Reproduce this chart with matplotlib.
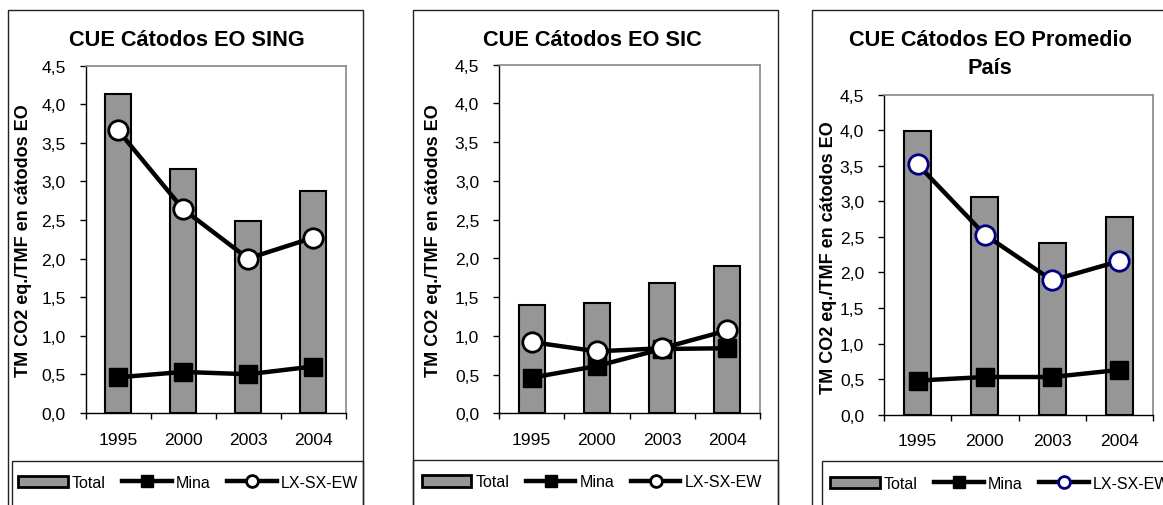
import numpy as np
import matplotlib.pyplot as plt
from matplotlib.patches import Rectangle
from matplotlib.ticker import FixedLocator, FuncFormatter

plt.rcParams['font.family'] = ['Liberation Sans', 'DejaVu Sans']

years = ['1995', '2000', '2003', '2004']

# SING
sing_total = [4.13, 3.16, 2.49, 2.87]
sing_mina = [0.46, 0.53, 0.50, 0.60]
sing_lx = [3.66, 2.64, 2.00, 2.27]

# SIC
sic_total = [1.40, 1.42, 1.68, 1.90]
sic_mina = [0.46, 0.61, 0.83, 0.84]
sic_lx = [0.92, 0.80, 0.84, 1.07]

# promedio pais
pais_total = [3.99, 3.06, 2.42, 2.78]
pais_mina = [0.48, 0.53, 0.53, 0.63]
pais_lx = [3.52, 2.53, 1.89, 2.16]

W, H = 1163, 506
fig = plt.figure(figsize=(W / 100, H / 100), dpi=100)


def fx(px):
    return px / W


def fy(py):
    return 1 - py / H


def add_axes(x0, y0, x1, y1):
    return fig.add_axes([fx(x0), fy(y1), fx(x1 - x0), (y1 - y0) / H])


def frame(x0, y0, x1, y1, lw=1.0, color='#222222'):
    fig.add_artist(Rectangle((fx(x0), fy(y1)), fx(x1 - x0), (y1 - y0) / H,
                             transform=fig.transFigure, fill=False,
                             lw=lw, edgecolor=color, clip_on=False))


def draw_panel(ax, total, mina, lx, lx_edge):
    x = np.arange(len(years))
    ax.bar(x, total, width=0.40, color='#969696', edgecolor='black', lw=1.5, zorder=2)
    ax.plot(x, mina, color='black', lw=3.2, marker='s', ms=13,
            mfc='black', mec='black', zorder=3)
    ax.plot(x, lx, color='black', lw=3.2, marker='o', ms=14,
            mfc='white', mec=lx_edge, mew=2.0, zorder=4)
    ax.set_xlim(-0.5, 3.5)
    ax.set_ylim(0, 4.5)
    ax.set_yticks(np.arange(0, 4.51, 0.5))
    ax.yaxis.set_major_formatter(FuncFormatter(lambda v, p: f'{v:.1f}'.replace('.', ',')))
    ax.xaxis.set_major_locator(FixedLocator([-0.5, 0.5, 1.5, 2.5, 3.5]))
    ax.xaxis.set_minor_locator(FixedLocator(x))
    ax.set_xticklabels([], minor=False)
    ax.set_xticklabels(years, minor=True)
    ax.tick_params(axis='x', which='major', direction='out', length=4.5, width=1)
    ax.tick_params(axis='x', which='minor', length=0, pad=13.5, labelsize=12.6)
    ax.tick_params(axis='y', direction='out', length=4.3, width=1, pad=10, labelsize=12.6)
    for s in ('top', 'right'):
        ax.spines[s].set_color('#888888')
        ax.spines[s].set_linewidth(1.2)
    for s in ('left', 'bottom'):
        ax.spines[s].set_color('black')
        ax.spines[s].set_linewidth(1.0)


def panel_legend(ax, x_start, y_center, lx_edge):
    handles = [
        plt.Rectangle((0, 0), 1, 1, facecolor='#969696', edgecolor='black', lw=2),
        plt.Line2D([], [], color='black', lw=3.2, marker='s', ms=8.5, mfc='black', mec='black'),
        plt.Line2D([], [], color='black', lw=3.2, marker='o', ms=8.5, mfc='white',
                   mec=lx_edge, mew=2.0),
    ]
    ax.legend(handles, ['Total', 'Mina', 'LX-SX-EW'], ncol=3, frameon=False,
              loc='center left', bbox_to_anchor=(fx(x_start), fy(y_center)),
              bbox_transform=fig.transFigure, borderpad=0, borderaxespad=0,
              handlelength=3.1, handletextpad=0.25, columnspacing=1.05,
              fontsize=11.5, numpoints=1)


ylab = 'TM CO2 eq./TMF en cátodos EO'
title_kw = dict(ha='center', va='baseline', fontsize=15.7, fontweight='bold')
ylab_kw = dict(rotation=90, ha='center', va='center', fontsize=13, fontweight='bold')

# panel 1: SING
frame(8, 11, 363, 530)
frame(12, 461.5, 363, 530)
ax1 = add_axes(85.7, 66.7, 345.5, 413.8)
draw_panel(ax1, sing_total, sing_mina, sing_lx, 'black')
panel_legend(ax1, 18, 483.5, 'black')
fig.text(fx(186.7), fy(45.5), 'CUE Cátodos EO SING', **title_kw)
fig.text(fx(24), fy(240.5), ylab, **ylab_kw)

# panel 2: SIC
frame(412.7, 11, 778.3, 530)
frame(412.7, 461, 778.3, 530)
ax2 = add_axes(499, 65.7, 760, 414.3)
draw_panel(ax2, sic_total, sic_mina, sic_lx, 'black')
panel_legend(ax2, 421.7, 483, 'black')
fig.text(fx(592.5), fy(45.5), 'CUE Cátodos EO SIC', **title_kw)
fig.text(fx(433.3), fy(240.5), ylab, **ylab_kw)

# panel 3: promedio pais (title on two lines)
frame(812.3, 11, 1180, 530)
frame(821.7, 462.3, 1180, 530)
ax3 = add_axes(884, 95.7, 1153, 415.7)
draw_panel(ax3, pais_total, pais_mina, pais_lx, '#000080')
panel_legend(ax3, 830, 484.5, '#000080')
fig.text(fx(990.3), fy(45.5), 'CUE Cátodos EO Promedio', **title_kw)
fig.text(fx(990.3), fy(74), 'País', **title_kw)
fig.text(fx(828.3), fy(257.5), ylab, **ylab_kw)

fig.savefig('out.png', dpi=100)
